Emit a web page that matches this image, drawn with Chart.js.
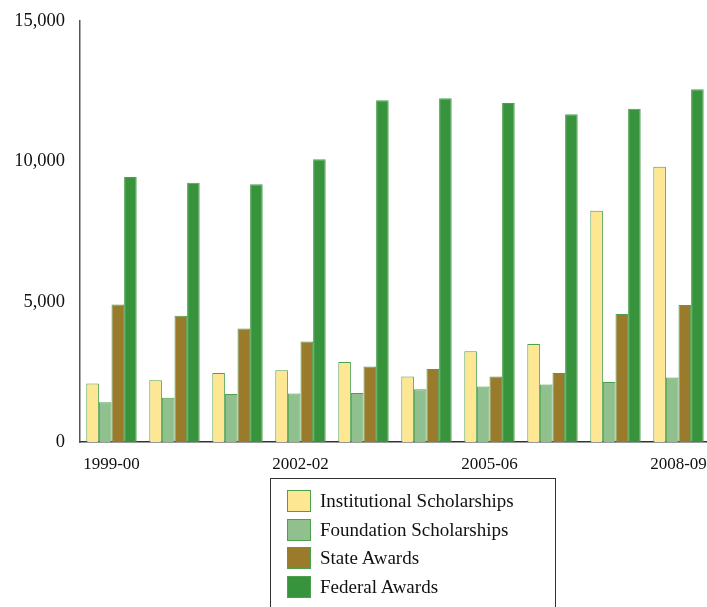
<!DOCTYPE html>
<html>
<head>
<meta charset="utf-8">
<script src="https://cdn.jsdelivr.net/npm/chart.js@4"></script>
<style>
  html, body { margin: 0; padding: 0; background: #fff; overflow: hidden; }
  #wrap { position: relative; width: 707px; height: 607px; overflow: hidden; }
  #chart { position: absolute; left: 0; top: 0; }
  #legend {
    position: absolute; left: 270px; top: 478px; width: 286px; height: 160px;
    border: 1px solid #333; box-sizing: border-box;
    font-family: "Liberation Serif", serif; font-size: 19px; color: #111;
  }
  #legend .row { position: absolute; left: 16px; height: 22px; }
  #legend .sw { position: absolute; left: 0; top: 0; width: 22px; height: 20px; border: 1px solid #4c9f4c; }
  #legend .lbl { position: absolute; left: 33px; top: 0; line-height: 22px; white-space: nowrap; }
</style>
</head>
<body>
<div id="wrap">
  <canvas id="chart" width="720" height="480"></canvas>
  <div id="legend"></div>
</div>
<script>
'use strict';

var years = ['1999-00', '2000-01', '2001-02', '2002-02', '2003-04', '2004-05', '2005-06', '2006-07', '2007-08', '2008-09'];
var shownYears = ['1999-00', '2002-02', '2005-06', '2008-09'];
var yTicks = [0, 5000, 10000, 15000];

var institutional = [2080, 2200, 2460, 2560, 2850, 2330, 3230, 3490, 8240, 9810];
var foundation = [1420, 1580, 1710, 1730, 1750, 1880, 1980, 2050, 2140, 2300];
var stateAwards = [4900, 4500, 4040, 3580, 2690, 2600, 2330, 2460, 4560, 4880];
var federalAwards = [9440, 9240, 9180, 10070, 12180, 12250, 12080, 11680, 11870, 12570];

var seriesNames = ['Institutional Scholarships', 'Foundation Scholarships', 'State Awards', 'Federal Awards'];
var seriesColors = ['#fde793', '#8fc08e', '#9a7a2b', '#38943c'];
var seriesData = [institutional, foundation, stateAwards, federalAwards];

var serif = '"Liberation Serif", serif';

var datasets = seriesData.map(function(d, i) {
    return {
        label: seriesNames[i],
        data: d,
        backgroundColor: seriesColors[i],
        borderColor: '#4c9f4c',
        borderWidth: 1,
        categoryPercentage: 0.8,
        barPercentage: 1.0
    };
});

var chart = new Chart(document.getElementById('chart').getContext('2d'), {
    type: 'bar',
    data: { labels: years, datasets: datasets },
    options: {
        responsive: false,
        animation: false,
        layout: { padding: { top: 21, right: 10, left: 0, bottom: 0 } },
        plugins: { legend: { display: false }, tooltip: { enabled: false } },
        scales: {
            x: {
                grid: { display: false, drawTicks: false },
                border: { display: true, color: '#333', width: 1.5 },
                afterFit: function(scale) { scale.height = 38; },
                ticks: {
                    autoSkip: false,
                    maxRotation: 0,
                    padding: 12,
                    color: '#111',
                    font: { family: serif, size: 17 },
                    callback: function(value, index) {
                        var lbl = years[index];
                        return shownYears.indexOf(lbl) >= 0 ? lbl : '';
                    }
                }
            },
            y: {
                min: 0,
                max: 15000,
                grid: { display: false, drawTicks: false },
                border: { display: true, color: '#555', width: 1.5 },
                afterFit: function(scale) {
                    scale.width = 80;
                    scale.paddingTop = 0;
                    scale.paddingBottom = 0;
                },
                afterBuildTicks: function(scale) {
                    scale.ticks = yTicks.map(function(v) { return { value: v }; });
                },
                ticks: {
                    padding: 15,
                    color: '#111',
                    font: { family: serif, size: 18.5 },
                    callback: function(value) { return value.toLocaleString('en-US'); }
                }
            }
        }
    }
});

// html legend built from the datasets
var legend = document.getElementById('legend');
var rowTops = [11, 40, 68, 97];
chart.data.datasets.forEach(function(ds, i) {
    var row = document.createElement('div');
    row.className = 'row';
    row.style.top = rowTops[i] + 'px';
    var sw = document.createElement('span');
    sw.className = 'sw';
    sw.style.background = ds.backgroundColor;
    var lbl = document.createElement('span');
    lbl.className = 'lbl';
    lbl.textContent = ds.label;
    row.appendChild(sw);
    row.appendChild(lbl);
    legend.appendChild(row);
});
</script>
</body>
</html>
